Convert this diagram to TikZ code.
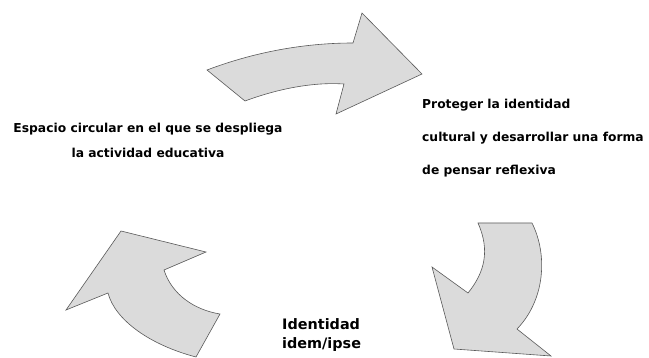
\documentclass[tikz,border=0pt]{standalone}
\usepackage{fontspec}
\setmainfont{DejaVu Sans}

\tikzset{
	bigarrow/.style={draw=black!65, fill=black!14, line width=0.6pt, line join=miter},
	label/.style={inner sep=0pt, font=\bfseries\fontsize{12.3}{25}\selectfont},
}

\begin{document}
\begin{tikzpicture}[x=1pt, y=-1pt]
	\useasboundingbox (0, 0) rectangle (649, 358);

	% top arrow, pointing right
	\draw[bigarrow] (207, 70) .. controls (260, 50) and (310, 43) .. (353, 43)
		-- (362, 13) -- (422, 74) -- (336, 114) -- (344, 84)
		.. controls (315, 82) and (280, 88) .. (245, 101) -- cycle;

	% right arrow, pointing down
	\draw[bigarrow] (478, 223) -- (532, 223)
		.. controls (548, 255) and (545, 300) .. (517, 329)
		-- (551, 356) -- (454, 349) -- (432, 267) -- (468, 293)
		.. controls (485, 272) and (490, 250) .. cycle;

	% left arrow, pointing up
	\draw[bigarrow] (121, 231) -- (206, 252) -- (164, 270)
		.. controls (172, 295) and (195, 310) .. (220, 314)
		-- (196, 357) .. controls (150, 345) and (115, 320) .. (108, 293)
		-- (66, 310) -- cycle;

	\node[label, align=center] (espacio) at (148, 140)
		{Espacio circular en el que se despliega\\la actividad educativa};
	\node[label, align=left, anchor=west, font=\bfseries\fontsize{12.3}{33}\selectfont] (proteger) at (422, 138)
		{Proteger la identidad\\cultural y desarrollar una forma\\de pensar reflexiva};
	\node[label, align=left, anchor=west, font=\bfseries\fontsize{14.4}{19}\selectfont] (identidad) at (282, 335)
		{Identidad\\idem/ipse};
\end{tikzpicture}
\end{document}
